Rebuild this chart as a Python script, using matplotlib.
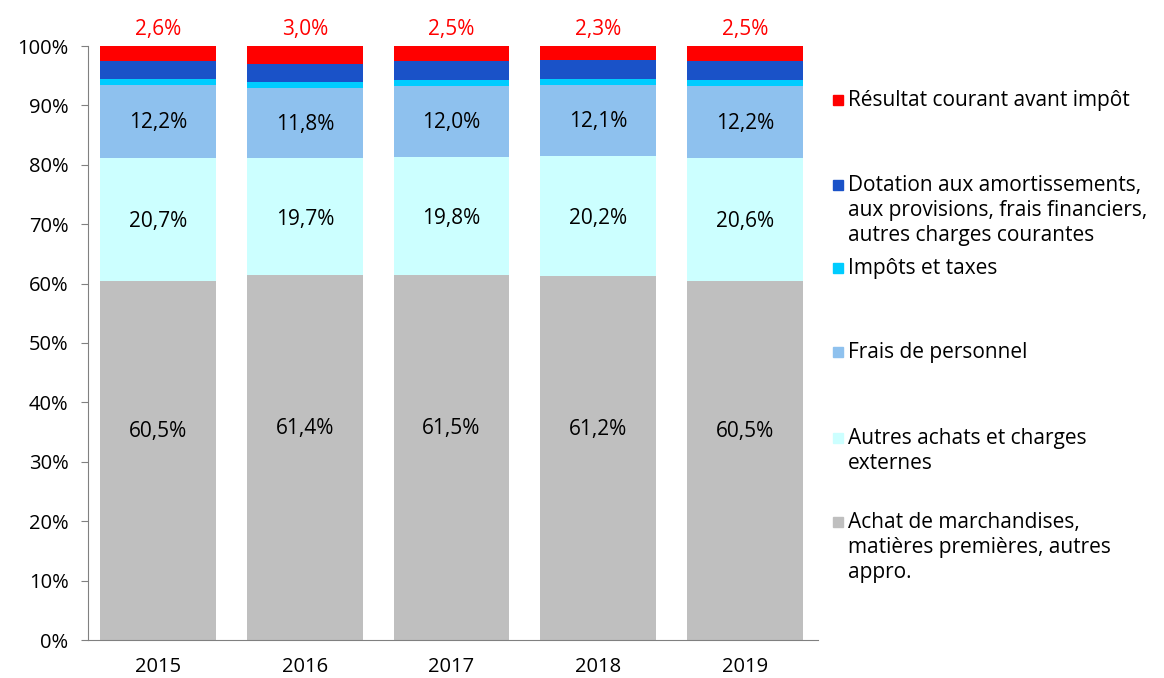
import matplotlib
matplotlib.use("Agg")
import matplotlib.pyplot as plt
from matplotlib.patches import Rectangle

plt.rcParams['font.family'] = ['Open Sans', 'DejaVu Sans']

years = ["2015", "2016", "2017", "2018", "2019"]
achat = [60.5, 61.4, 61.5, 61.2, 60.5]
autres = [20.7, 19.7, 19.8, 20.2, 20.6]
personnel = [12.2, 11.8, 12.0, 12.1, 12.2]
impots = [1.1, 1.1, 1.0, 0.9, 1.0]
dotation = [2.9, 3.0, 3.2, 3.3, 3.2]
resultat = [2.6, 3.0, 2.5, 2.3, 2.5]

series = [achat, autres, personnel, impots, dotation, resultat]
colors = ["#BFBFBF", "#CCFFFF", "#8EC1EE", "#00CCFF", "#1A52C8", "#FF0000"]
labels = ["Achat de marchandises,\nmatières premières, autres\nappro.",
          "Autres achats et charges\nexternes",
          "Frais de personnel",
          "Impôts et taxes",
          "Dotation aux amortissements,\naux provisions, frais financiers,\nautres charges courantes",
          "Résultat courant avant impôt"]

def fmt(v):
    return f"{v:.1f}".replace(".", ",") + "%"

fig = plt.figure(figsize=(11.64, 6.78), dpi=100)
ax = fig.add_axes([88/1164, 1-640/678, (818-88)/1164, (640-46)/678])

x = list(range(len(years)))
bottom = [0.0]*len(years)
width = 0.79
label_frac = [0.58, 0.48, 0.48]
for i, (vals, c) in enumerate(zip(series, colors)):
    ax.bar(x, vals, width, bottom=bottom, color=c, edgecolor='none')
    if i < 3:
        for xi, b, v in zip(x, bottom, vals):
            ax.text(xi, b + v*label_frac[i], fmt(v), ha='center', va='center',
                    fontsize=15, color='black')
    bottom = [b + v for b, v in zip(bottom, vals)]

for xi, v, b in zip(x, resultat, bottom):
    ax.text(xi, b + 2.8, fmt(v), ha='center', va='center', fontsize=15,
            color='#FF0000', clip_on=False)

ax.set_xlim(-0.48, 4.5)
ax.set_ylim(0, 100)
ax.set_xticks(x)
ax.set_xticklabels(years, fontsize=14.5)
ax.set_yticks(range(0, 101, 10))
ax.set_yticklabels([f"{t}%" for t in range(0, 101, 10)], fontsize=14.5)
ax.tick_params(axis='x', length=0, pad=12)
ax.tick_params(axis='y', length=5, color='#808080', pad=9)
for s in ['top', 'right']:
    ax.spines[s].set_visible(False)
for s in ['left', 'bottom']:
    ax.spines[s].set_color('#808080')

# legend (manual, top to bottom)
ys = [100, 185, 268, 352, 438, 522]
order = list(range(5, -1, -1))
for yy, idx in zip(ys, order):
    fig.add_artist(Rectangle((833/1164, 1-(yy+5)/678), 10/1164, 10/678,
                             transform=fig.transFigure, color=colors[idx]))
    fig.text(848/1164, 1-(yy-10)/678, labels[idx], ha='left', va='top',
             fontsize=15, linespacing=1.24)

fig.savefig("out.png", dpi=100)
